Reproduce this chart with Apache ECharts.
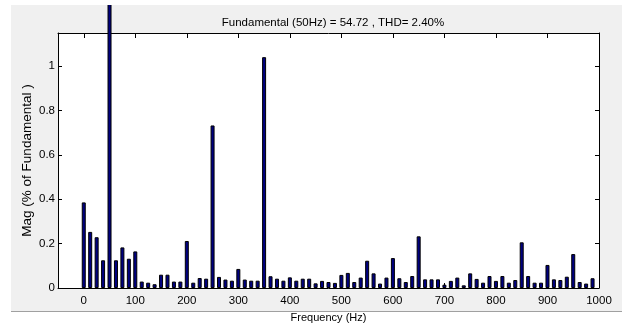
<!DOCTYPE html>
<html>
<head>
  <meta charset="utf-8">
</head>
<body style="margin: 0; background: #fff">
  <div id="container" style="position: absolute; left: 0; top: 5px; width: 622px; height: 319px"></div>
  <script src="https://cdn.jsdelivr.net/npm/echarts@6/dist/echarts.min.js"></script>
  <script>
    // harmonic bins (Hz) and magnitude (% of fundamental)
    var freqs = [0, 12.5, 25, 37.5, 50, 62.5, 75, 87.5, 100, 112.5, 125, 137.5, 150, 162.5, 175, 187.5,
      200, 212.5, 225, 237.5, 250, 262.5, 275, 287.5, 300, 312.5, 325, 337.5, 350, 362.5, 375, 387.5,
      400, 412.5, 425, 437.5, 450, 462.5, 475, 487.5, 500, 512.5, 525, 537.5, 550, 562.5, 575, 587.5,
      600, 612.5, 625, 637.5, 650, 662.5, 675, 687.5, 700, 712.5, 725, 737.5, 750, 762.5, 775, 787.5,
      800, 812.5, 825, 837.5, 850, 862.5, 875, 887.5, 900, 912.5, 925, 937.5, 950, 962.5, 975, 987.5];
    var mags = [0.386, 0.253, 0.229, 0.125, 100, 0.125, 0.183, 0.132, 0.165, 0.029, 0.024, 0.017, 0.060, 0.060, 0.029, 0.029,
      0.212, 0.024, 0.045, 0.042, 0.733, 0.050, 0.038, 0.033, 0.086, 0.038, 0.033, 0.033, 1.041, 0.053, 0.042, 0.033,
      0.048, 0.033, 0.042, 0.042, 0.021, 0.032, 0.027, 0.023, 0.059, 0.068, 0.027, 0.047, 0.123, 0.066, 0.020, 0.047,
      0.135, 0.044, 0.027, 0.054, 0.233, 0.039, 0.039, 0.039, 0.015, 0.032, 0.047, 0.012, 0.066, 0.041, 0.024, 0.054,
      0.032, 0.054, 0.024, 0.036, 0.206, 0.054, 0.024, 0.024, 0.104, 0.039, 0.036, 0.051, 0.153, 0.027, 0.020, 0.044];
    var xTicks = [0, 100, 200, 300, 400, 500, 600, 700, 800, 900, 1000];
    var titleText = 'Fundamental (50Hz) = 54.72 , THD= 2.40%';

    var font = 'Liberation Sans, Arial, sans-serif';
    var data = freqs.map(function (f, i) { return [f, mags[i]]; });

    var myChart = echarts.init(document.getElementById('container'), null, { renderer: 'canvas' });

    var tickStyle = { color: '#000', width: 1 };
    var lineStyle = { color: '#000', width: 1 };
    var plain = function (v) { return String(v); };

    var option = {
      animation: false,
      title: {
        text: titleText,
        left: 328,
        top: 7,
        textAlign: 'center',
        textStyle: { fontFamily: font, fontSize: 11.5, fontWeight: 'normal', color: '#000' }
      },
      graphic: [
        { type: 'rect', z: -10, shape: { x: 11, y: 0, width: 611, height: 306 }, style: { fill: '#f0f0f0' } },
        { type: 'line', z: -10, shape: { x1: 11, y1: 306.5, x2: 622, y2: 306.5 }, style: { stroke: '#a0a0a0', lineWidth: 1 } }
      ],
      grid: {
        left: 58, right: 23, top: 28, bottom: 36,
        outerBoundsMode: 'none',
        show: true, backgroundColor: '#fff', borderWidth: 0
      },
      xAxis: [
        {
          type: 'value', min: -50, max: 1000, position: 'bottom',
          name: 'Frequency (Hz)', nameLocation: 'middle', nameGap: 24,
          nameTextStyle: { fontFamily: font, fontSize: 11, color: '#000' },
          axisLine: { onZero: false, lineStyle: lineStyle },
          axisTick: { inside: true, length: 5, lineStyle: tickStyle, customValues: xTicks },
          axisLabel: { fontFamily: font, fontSize: 11.5, color: '#000', margin: 7, customValues: xTicks, formatter: plain },
          splitLine: { show: false }
        },
        {
          type: 'value', min: -50, max: 1000, position: 'top',
          axisLine: { onZero: false, lineStyle: lineStyle },
          axisTick: { inside: true, length: 5, lineStyle: tickStyle, customValues: xTicks },
          axisLabel: { show: false },
          splitLine: { show: false }
        }
      ],
      yAxis: [
        {
          type: 'value', min: 0, max: 1.15, interval: 0.2, position: 'left',
          name: 'Mag (% of Fundamental )', nameLocation: 'middle', nameGap: 24, nameRotate: 90,
          nameMoveOverlap: false,
          nameTextStyle: { fontFamily: font, fontSize: 13.5, color: '#000' },
          axisLine: { show: true, onZero: false, lineStyle: lineStyle },
          axisTick: { show: true, inside: true, length: 4, lineStyle: tickStyle },
          axisLabel: { fontFamily: font, fontSize: 11.5, color: '#000', margin: 3, showMaxLabel: false, formatter: plain },
          splitLine: { show: false }
        },
        {
          type: 'value', min: 0, max: 1.15, interval: 0.2, position: 'right',
          axisLine: { show: true, onZero: false, lineStyle: lineStyle },
          axisTick: { show: true, inside: true, length: 4, lineStyle: tickStyle },
          axisLabel: { show: false },
          splitLine: { show: false }
        }
      ],
      series: [
        {
          type: 'bar',
          xAxisIndex: 0,
          yAxisIndex: 0,
          data: data,
          barWidth: 4,
          clip: false,
          itemStyle: { color: '#000080', borderColor: '#000', borderWidth: 1 }
        }
      ]
    };

    myChart.setOption(option);
    window.addEventListener('resize', myChart.resize);
  </script>
</body>
</html>
